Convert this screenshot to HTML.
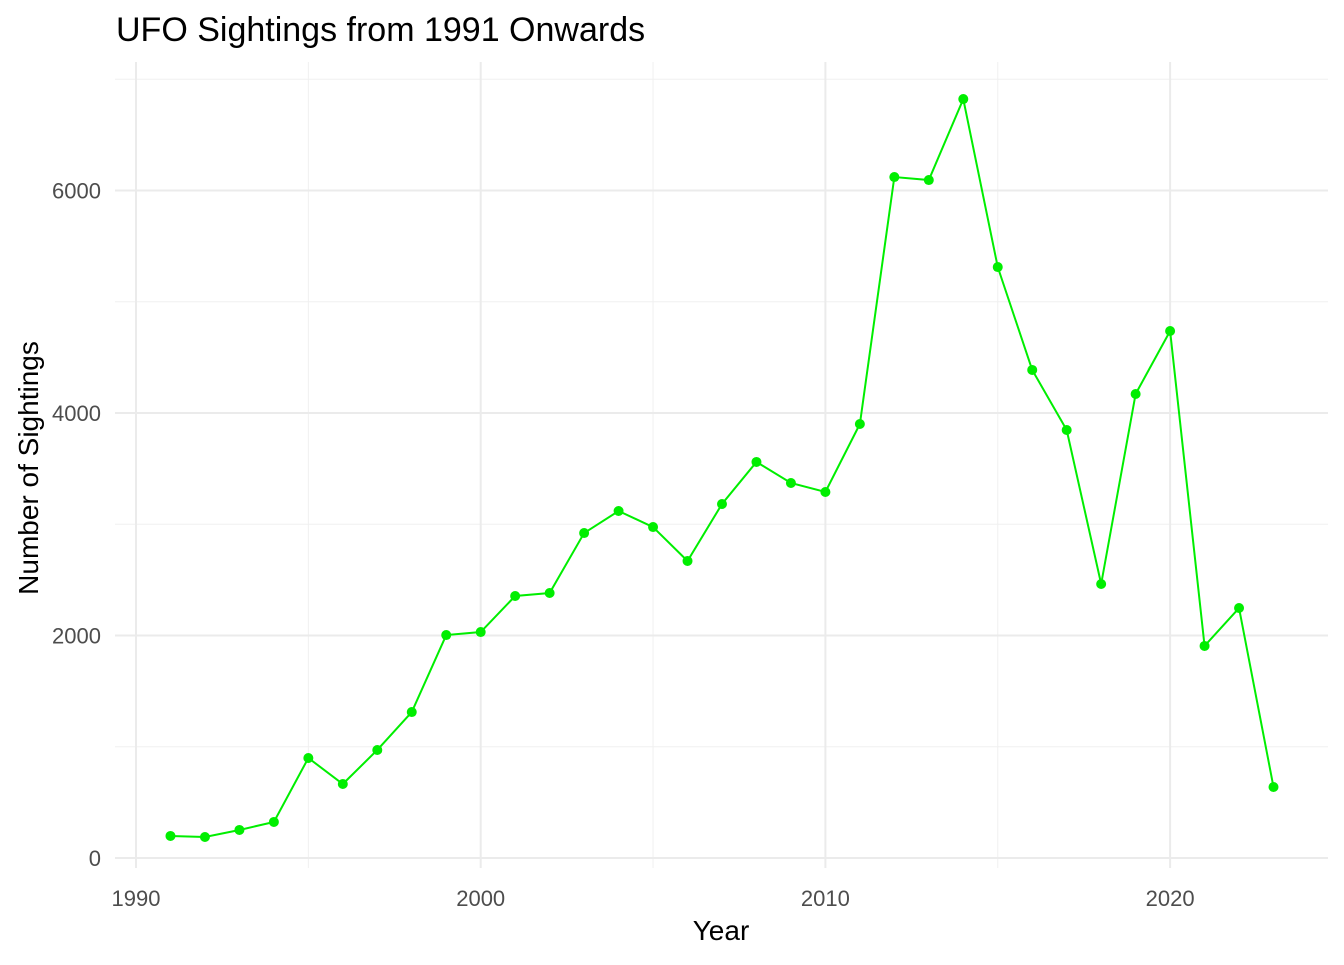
<!DOCTYPE html>
<html><head><meta charset="utf-8"><style>
body{margin:0;background:#fff;font-family:"Liberation Sans",Arial,sans-serif}
svg text{font-family:"Liberation Sans",Arial,sans-serif}
</style></head><body>
<svg id="chart" width="1344" height="960">
<text x="116" y="41" font-size="34" fill="#000">UFO Sightings from 1991 Onwards</text>
<text x="721" y="940" font-size="28" text-anchor="middle" fill="#000">Year</text>
<text transform="translate(38,468) rotate(-90)" font-size="28" text-anchor="middle" fill="#000">Number of Sightings</text>
<g id="grid"></g><g id="ticks"></g><g id="series"></g>
</svg>
<script>
const years=[1991,1992,1993,1994,1995,1996,1997,1998,1999,2000,2001,2002,2003,2004,2005,2006,2007,2008,2009,2010,2011,2012,2013,2014,2015,2016,2017,2018,2019,2020,2021,2022,2023];
const sightings=[198,189,252,324,899,665,971,1312,2004,2031,2355,2382,2921,3119,2975,2670,3182,3560,3371,3290,3901,6121,6094,6822,5312,4387,3847,2463,4171,4737,1906,2247,638];
const xTicks=[1990,2000,2010,2020];
const xMinor=[1995,2005,2015];
const yTicks=[0,2000,4000,6000];
const yMinor=[1000,3000,5000,7000];
const X=v=>136+(v-1990)*34.47;
const Y=v=>858-v*0.11125;
const NS="http://www.w3.org/2000/svg";
function mk(tag,parent,attrs){const e=document.createElementNS(NS,tag);for(const k in attrs)e.setAttribute(k,attrs[k]);document.getElementById(parent).appendChild(e);return e;}
const L=115,R=1328,T=62,B=868;
yMinor.forEach(v=>{const e=mk('line','grid',{x1:L,x2:R,y1:Y(v),y2:Y(v),stroke:'#f0f0f0','stroke-width':1});

});
xMinor.forEach(v=>{const e=mk('line','grid',{x1:X(v),x2:X(v),y1:T,y2:B,stroke:'#f0f0f0','stroke-width':1});

});
yTicks.forEach(v=>{const e=mk('line','grid',{x1:L,x2:R,y1:Y(v),y2:Y(v),stroke:'#ebebeb','stroke-width':2});


const t=mk('text','ticks',{x:101,y:Y(v)+8,'font-size':22,fill:'#4d4d4d','text-anchor':'end'});t.textContent=v;

});
xTicks.forEach(v=>{const e=mk('line','grid',{x1:X(v),x2:X(v),y1:T,y2:B,stroke:'#ebebeb','stroke-width':2});


const t=mk('text','ticks',{x:X(v),y:906,'font-size':22,fill:'#4d4d4d','text-anchor':'middle'});t.textContent=v;

});
const p=mk('polyline','series',{points:years.map((y,i)=>X(y)+','+Y(sightings[i])).join(' '),fill:'none',stroke:'#00ee00','stroke-width':2});


years.forEach((y,i)=>{const c=mk('circle','series',{cx:X(y),cy:Y(sightings[i]),r:5,fill:'#00ee00'});

});
</script>
</body></html>
